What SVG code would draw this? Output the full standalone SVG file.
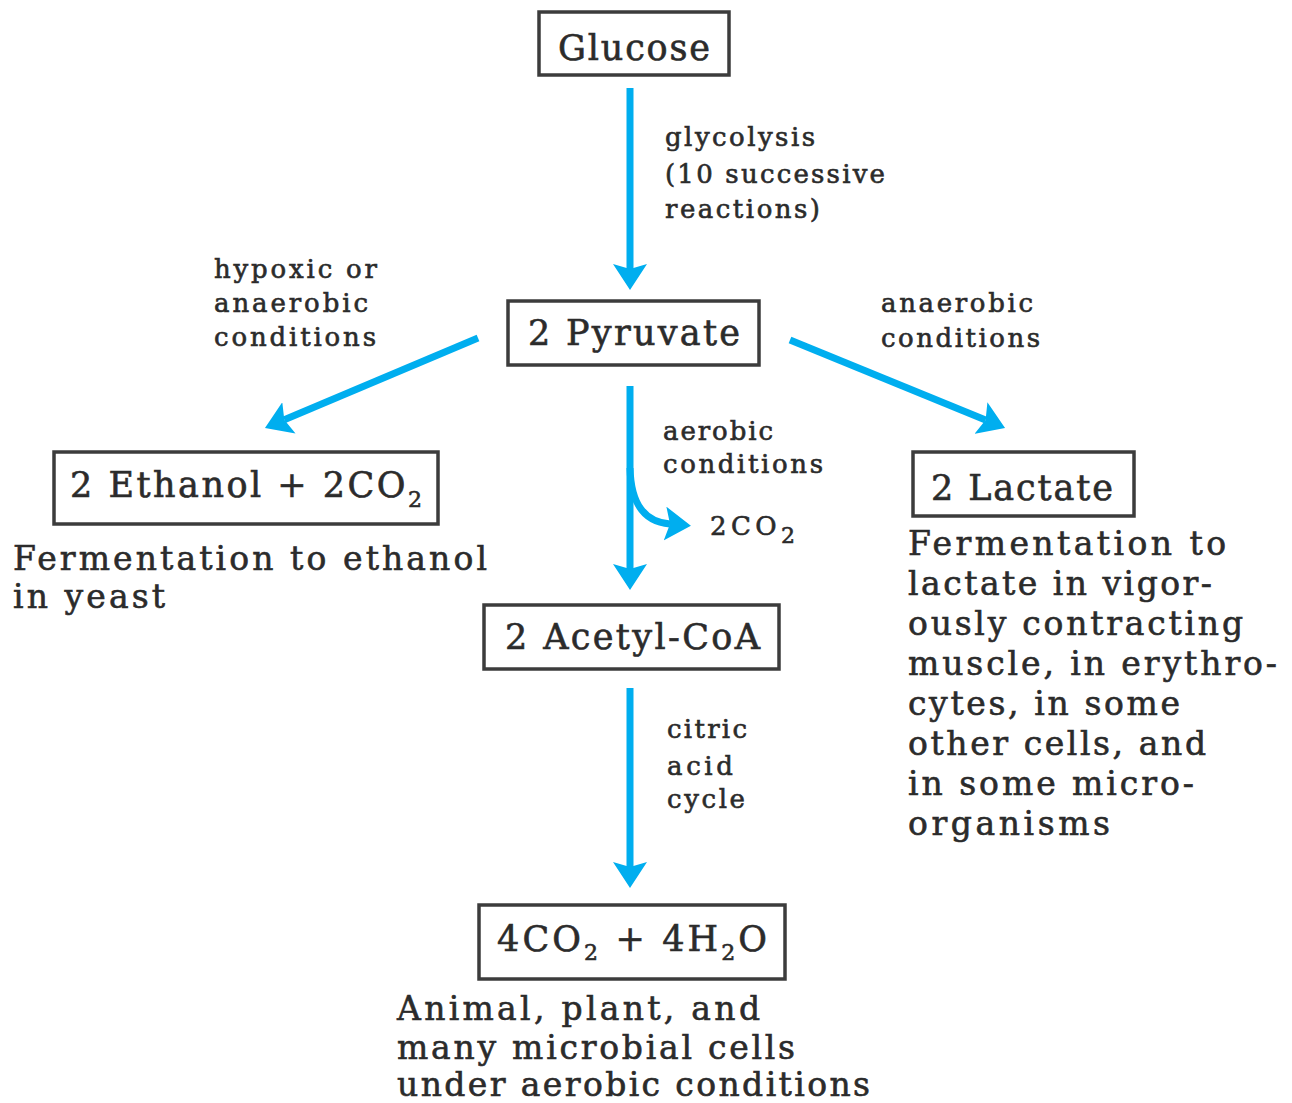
<svg xmlns="http://www.w3.org/2000/svg" width="1292" height="1103" viewBox="0 0 1292 1103">
<style>
.box{fill:#fff;stroke:#3c3c3c;stroke-width:3.5}
.t{font-family:"DejaVu Serif","Liberation Serif",serif;fill:#2b2b2b;stroke:#2b2b2b;stroke-width:0.6}
.title{font-size:35px}
.lab{font-size:26px}
.desc{font-size:33px}
.arr{fill:none;stroke:#00AEEF;stroke-width:7}
.sub{font-size:22px}
</style>
<defs>
<marker id="ah" markerUnits="userSpaceOnUse" viewBox="0 0 26 34" refX="5" refY="17" markerWidth="26" markerHeight="34" orient="auto">
<path d="M0,0 L26,17 L0,34 L5,17 z" fill="#00AEEF"/>
</marker>
</defs>
<rect width="1292" height="1103" fill="#fff"/>
<g id="connectors">
<line class="arr" x1="630" y1="88" x2="630" y2="269" marker-end="url(#ah)"/>
<line class="arr" x1="478" y1="338" x2="284.3" y2="419.8" marker-end="url(#ah)"/>
<line class="arr" x1="790" y1="340" x2="985.6" y2="420" marker-end="url(#ah)"/>
<line class="arr" x1="630" y1="386" x2="630" y2="569" marker-end="url(#ah)"/>
<path class="arr" d="M630,468 C631,505 645,522 670,524" marker-end="url(#ah)"/>
<line class="arr" x1="630" y1="688" x2="630" y2="867" marker-end="url(#ah)"/>
</g>
<g id="labels">
<text class="t lab" x="665" y="146" textLength="150">glycolysis</text>
<text class="t lab" x="665" y="183" textLength="220">(10 successive</text>
<text class="t lab" x="665" y="218" textLength="155">reactions)</text>
<text class="t lab" x="214" y="278" textLength="163">hypoxic or</text>
<text class="t lab" x="214" y="312" textLength="154">anaerobic</text>
<text class="t lab" x="214" y="346" textLength="162">conditions</text>
<text class="t lab" x="881" y="312" textLength="152">anaerobic</text>
<text class="t lab" x="881" y="347" textLength="159">conditions</text>
<text class="t lab" x="663" y="440" textLength="110">aerobic</text>
<text class="t lab" x="663" y="473" textLength="160">conditions</text>
<text class="t lab" x="710" y="535" textLength="85">2CO<tspan class="sub" dy="8">2</tspan></text>
<text class="t lab" x="667" y="738" textLength="80">citric</text>
<text class="t lab" x="667" y="775" textLength="66">acid</text>
<text class="t lab" x="667" y="808" textLength="78">cycle</text>
</g>
<g id="glucose">
<rect class="box" x="539" y="12" width="190" height="63"/>
<text class="t title" x="558" y="60" textLength="152">Glucose</text>
</g>
<g id="pyruvate">
<rect class="box" x="508" y="301" width="251" height="64"/>
<text class="t title" x="528" y="345" textLength="212">2 Pyruvate</text>
</g>
<g id="ethanol">
<rect class="box" x="54" y="452" width="384" height="72"/>
<text class="t title" x="70" y="497" textLength="352">2 Ethanol + 2CO<tspan class="sub" dy="10">2</tspan></text>
<text class="t desc" x="13" y="570" textLength="474">Fermentation to ethanol</text>
<text class="t desc" x="13" y="608" textLength="152">in yeast</text>
</g>
<g id="lactate">
<rect class="box" x="913" y="452" width="221" height="64"/>
<text class="t title" x="931" y="500" textLength="182">2 Lactate</text>
<text class="t desc" x="908" y="555" textLength="318">Fermentation to</text>
<text class="t desc" x="908" y="595" textLength="304">lactate in vigor-</text>
<text class="t desc" x="908" y="635" textLength="335">ously contracting</text>
<text class="t desc" x="908" y="675" textLength="369">muscle, in erythro-</text>
<text class="t desc" x="908" y="715" textLength="272">cytes, in some</text>
<text class="t desc" x="908" y="755" textLength="298">other cells, and</text>
<text class="t desc" x="908" y="795" textLength="286">in some micro-</text>
<text class="t desc" x="908" y="835" textLength="202">organisms</text>
</g>
<g id="acetylcoa">
<rect class="box" x="484" y="605" width="295" height="64"/>
<text class="t title" x="505" y="649" textLength="255">2 Acetyl-CoA</text>
</g>
<g id="co2h2o">
<rect class="box" x="479" y="905" width="306" height="74"/>
<text class="t title" x="497" y="951" textLength="270">4CO<tspan class="sub" dy="9">2</tspan><tspan dy="-9"> + 4H</tspan><tspan class="sub" dy="9">2</tspan><tspan dy="-9">O</tspan></text>
<text class="t desc" x="397" y="1020" textLength="363">Animal, plant, and</text>
<text class="t desc" x="397" y="1059" textLength="398">many microbial cells</text>
<text class="t desc" x="397" y="1096" textLength="473">under aerobic conditions</text>
</g>
</svg>
